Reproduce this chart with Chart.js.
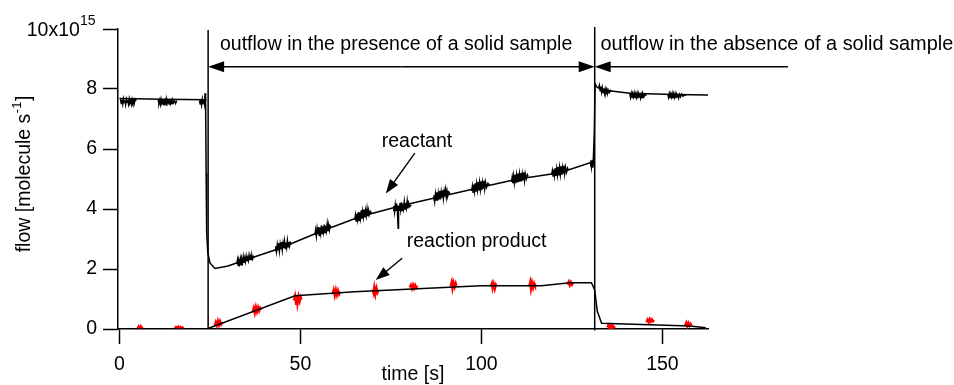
<!DOCTYPE html>
<html>
<head>
<meta charset="utf-8">
<script src="https://cdn.jsdelivr.net/npm/chart.js@4/dist/chart.umd.min.js"></script>
<style>
html,body{margin:0;padding:0;background:#fff;}
#wrap{width:954px;height:385px;position:relative;}
</style>
</head>
<body>
<div id="wrap"><canvas id="c" width="954" height="385"></canvas></div>
<script>
// ---------- data ----------
const xTicks = [0, 50, 100, 150];
const yTicks = [0, 2, 4, 6, 8, 10];

const reactantFitX = [0, 12, 23.8, 23.95, 24.1, 24.4, 25.0, 26.4, 30, 33.3, 44.4, 55.4, 66.4, 77.5, 88.5, 99.6, 109.7, 121.7, 130.9, 131.2, 131.4, 132, 133.6, 141, 153, 162.6];
const reactantFitY = [7.68, 7.66, 7.64, 5.2, 3.2, 2.55, 2.2, 2.02, 2.1, 2.24, 2.69, 3.24, 3.74, 4.1, 4.41, 4.72, 4.99, 5.21, 5.58, 6.6, 8.18, 8.05, 7.97, 7.86, 7.82, 7.8];

const productFitX = [0, 24.1, 48.5, 65, 99.8, 116.6, 124.4, 130.4, 131.3, 132, 133.2, 157.6, 162];
const productFitY = [0, 0, 1.11, 1.24, 1.44, 1.44, 1.54, 1.54, 1.3, 0.6, 0.19, 0.1, 0.04];

const reactantRaw = [
  [[0.3,7.66],[0.5,7.52],[0.7,7.64],[0.9,7.5],[1.1,7.67],[1.3,7.55],[1.5,7.62],[1.7,7.48],[1.9,7.66],[2.1,7.56],[2.3,7.63],[2.5,7.5],[2.7,7.67],[2.9,7.54],[3.1,7.6],[3.3,7.49],[3.5,7.65],[3.7,7.55],[3.9,7.62],[4.1,7.52],[4.3,7.66],[4.6,7.6]],
  [[10.7,7.64],[10.9,7.52],[11.1,7.62],[11.3,7.49],[11.5,7.66],[11.7,7.54],[11.9,7.6],[12.1,7.48],[12.3,7.65],[12.5,7.53],[12.7,7.62],[12.9,7.47],[13.1,7.64],[13.3,7.55],[13.5,7.6],[13.7,7.5],[13.9,7.66],[14.1,7.52],[14.3,7.61],[14.5,7.49],[14.7,7.63],[14.9,7.54],[15.2,7.6],[15.5,7.52],[15.8,7.62]],
  [[22.1,7.62],[22.3,7.5],[22.5,7.64],[22.7,7.48],[22.9,7.66],[23.1,7.52],[23.3,7.63],[23.5,7.5],[23.65,7.86],[23.8,7.6]],
  [[32.4,2.16],[32.6,2.3],[32.8,2.12],[33.0,2.28],[33.2,2.18],[33.4,2.34],[33.6,2.14],[33.8,2.32],[34.0,2.22],[34.2,2.4],[34.4,2.2],[34.6,2.36],[34.8,2.24],[35.0,2.42],[35.2,2.26],[35.4,2.38],[35.6,2.28],[35.8,2.46],[36.0,2.3],[36.2,2.42],[36.4,2.32],[36.6,2.44],[36.8,2.34],[37.0,2.42],[37.3,2.38]],
  [[43.0,2.6],[43.2,2.76],[43.4,2.58],[43.6,2.8],[43.8,2.62],[44.0,2.86],[44.2,2.6],[44.4,2.82],[44.6,2.66],[44.8,2.9],[45.0,2.64],[45.2,2.86],[45.4,2.7],[45.6,2.92],[45.8,2.68],[46.0,2.88],[46.2,2.72],[46.4,2.95],[46.6,2.74],[46.8,2.9],[47.0,2.76],[47.2,2.88],[47.5,2.82]],
  [[54.0,3.14],[54.2,3.3],[54.4,3.1],[54.6,3.34],[54.8,3.16],[55.0,3.4],[55.2,3.12],[55.4,3.38],[55.6,3.2],[55.8,3.46],[56.0,3.18],[56.2,3.42],[56.4,3.24],[56.6,3.48],[56.8,3.22],[57.0,3.44],[57.2,3.28],[57.4,3.5],[57.6,3.26],[57.8,3.46],[58.0,3.3],[58.2,3.44],[58.5,3.38]],
  [[65.0,3.64],[65.2,3.8],[65.4,3.6],[65.6,3.84],[65.8,3.66],[66.0,3.9],[66.2,3.62],[66.4,3.88],[66.6,3.7],[66.8,3.96],[67.0,3.68],[67.2,3.92],[67.4,3.74],[67.6,3.98],[67.8,3.72],[68.0,3.94],[68.2,3.78],[68.4,4.0],[68.6,3.76],[68.8,3.95],[69.0,3.8],[69.3,3.92],[69.6,3.86]],
  [[75.6,3.96],[75.8,4.1],[76.0,3.9],[76.2,4.14],[76.4,3.94],[76.6,4.18],[76.8,3.92],[77.0,3.36],[77.1,4.1],[77.3,3.96],[77.5,4.2],[77.7,3.98],[77.9,4.22],[78.1,3.95],[78.3,4.18],[78.5,4.02],[78.7,4.24],[78.9,4.0],[79.1,4.2],[79.3,4.04],[79.5,4.26],[79.7,4.02],[79.9,4.2],[80.2,4.08],[80.6,4.14]],
  [[86.7,4.3],[86.9,4.46],[87.1,4.26],[87.3,4.5],[87.5,4.3],[87.7,4.56],[87.9,4.28],[88.1,4.52],[88.3,4.34],[88.5,4.6],[88.7,4.32],[88.9,4.56],[89.1,4.38],[89.3,4.62],[89.5,4.36],[89.7,4.58],[89.9,4.42],[90.1,4.64],[90.3,4.4],[90.5,4.6],[90.7,4.44],[91.0,4.56],[91.3,4.5]],
  [[97.3,4.6],[97.5,4.76],[97.7,4.56],[97.9,4.82],[98.1,4.6],[98.3,4.86],[98.5,4.58],[98.7,4.84],[98.9,4.64],[99.1,4.9],[99.3,4.62],[99.5,4.88],[99.7,4.66],[99.9,4.92],[100.1,4.64],[100.3,4.88],[100.5,4.7],[100.7,4.94],[100.9,4.68],[101.1,4.9],[101.4,4.72],[101.8,4.86],[102.2,4.8]],
  [[108.3,4.9],[108.5,5.06],[108.7,4.86],[108.9,5.1],[109.1,4.88],[109.3,5.14],[109.5,4.86],[109.7,5.12],[109.9,4.92],[110.1,5.18],[110.3,4.9],[110.5,5.16],[110.7,4.94],[110.9,5.2],[111.1,4.92],[111.3,5.16],[111.5,4.98],[111.7,5.22],[111.9,4.96],[112.1,5.18],[112.4,5.0],[112.7,5.14],[112.9,5.08]],
  [[119.4,5.14],[119.6,5.28],[119.8,5.1],[120.0,5.32],[120.2,5.12],[120.4,5.36],[120.6,5.1],[120.8,5.34],[121.0,5.14],[121.2,5.4],[121.4,5.12],[121.6,5.38],[121.8,5.16],[122.0,5.42],[122.2,5.14],[122.4,5.38],[122.6,5.2],[122.8,5.44],[123.0,5.18],[123.2,5.4],[123.5,5.22],[123.8,5.36],[124.0,5.3]],
  [[130.0,5.44],[130.2,5.62],[130.4,5.4],[130.6,5.64],[130.8,5.38],[131.0,5.6],[131.1,5.46]],
  [[132.4,8.04],[132.6,8.12],[132.8,7.94],[133.0,8.08],[133.2,7.9],[133.4,8.04],[133.6,7.88],[133.8,8.02],[134.0,7.86],[134.2,8.0],[134.4,7.88],[134.6,7.98],[134.8,7.85],[135.0,7.97],[135.3,7.88],[135.6,7.95],[135.9,7.9]],
  [[141.0,7.84],[141.2,7.72],[141.4,7.85],[141.6,7.7],[141.8,7.84],[142.0,7.74],[142.2,7.86],[142.4,7.7],[142.6,7.83],[142.8,7.72],[143.0,7.85],[143.2,7.69],[143.4,7.84],[143.6,7.73],[143.8,7.83],[144.0,7.7],[144.2,7.82],[144.4,7.72],[144.6,7.84],[144.9,7.74],[145.2,7.82],[145.6,7.78]],
  [[151.5,7.82],[151.7,7.72],[151.9,7.84],[152.1,7.7],[152.3,7.83],[152.5,7.73],[152.7,7.85],[152.9,7.69],[153.1,7.83],[153.3,7.72],[153.5,7.84],[153.7,7.7],[153.9,7.82],[154.1,7.73],[154.3,7.84],[154.5,7.71],[154.7,7.82],[155.0,7.74],[155.3,7.83],[155.7,7.76],[156.1,7.81],[156.6,7.79]]
];

const productRaw = [
  [[5.0,0.02],[5.3,0.08],[5.6,0.01],[5.9,0.09],[6.2,0.03],[6.5,0.06]],
  [[15.3,0.02],[15.6,0.06],[15.9,0.01],[16.2,0.07],[16.5,0.0],[16.8,0.06],[17.1,0.01],[17.4,0.05],[17.7,0.02]],
  [[26.3,0.1],[26.6,0.22],[26.9,0.12],[27.2,0.27],[27.5,0.14],[27.8,0.26],[28.1,0.16],[28.4,0.23]],
  [[36.8,0.56],[37.1,0.7],[37.4,0.54],[37.7,0.73],[38.0,0.58],[38.3,0.72],[38.6,0.6],[38.9,0.7],[39.2,0.64]],
  [[48.2,0.95],[48.5,1.1],[48.8,0.84],[49.0,1.13],[49.2,0.86],[49.5,1.08],[49.8,0.92],[50.1,1.05],[50.3,0.98]],
  [[58.9,1.16],[59.2,1.3],[59.5,1.12],[59.8,1.3],[60.1,1.14],[60.4,1.28],[60.7,1.16],[61.0,1.24]],
  [[69.9,1.32],[70.2,1.2],[70.4,1.38],[70.7,1.16],[71.0,1.36],[71.3,1.22],[71.6,1.3]],
  [[80.2,1.38],[80.5,1.46],[80.8,1.35],[81.1,1.47],[81.4,1.36],[81.7,1.46],[82.0,1.38],[82.3,1.44]],
  [[91.5,1.42],[91.8,1.56],[92.0,1.36],[92.3,1.54],[92.6,1.4],[92.9,1.52],[93.1,1.44]],
  [[102.6,1.42],[102.9,1.52],[103.1,1.36],[103.4,1.5],[103.7,1.34],[104.0,1.48],[104.2,1.44]],
  [[113.2,1.42],[113.5,1.56],[113.7,1.34],[114.0,1.54],[114.3,1.38],[114.6,1.52],[114.8,1.46]],
  [[123.8,1.48],[124.1,1.57],[124.4,1.46],[124.7,1.56],[125.0,1.48],[125.3,1.54]],
  [[134.8,0.05],[135.1,0.13],[135.4,0.03],[135.7,0.12],[136.0,0.04],[136.3,0.11],[136.6,0.05],[136.9,0.09]],
  [[145.6,0.22],[145.9,0.31],[146.2,0.23],[146.5,0.33],[146.8,0.25],[147.1,0.32],[147.4,0.26],[147.7,0.3]],
  [[156.3,0.12],[156.6,0.21],[156.9,0.1],[157.2,0.2],[157.5,0.11],[157.8,0.17],[158.0,0.12]]
];

// annotation positions in data units
const phaseBounds = [24.5, 131.3];
const arrowLevel = 8.74;
const arrowEnd = 184.7;

// ---------- helpers ----------
function pairs(xs, ys){ return xs.map((x,i)=>({x:x, y:ys[i]})); }
function clusters(cl){
  const out = [];
  cl.forEach(c=>{
    c.forEach(p=>out.push({x:p[0], y:p[1]}));
    out.push({x:c[c.length-1][0]+0.01, y:null});
  });
  return out;
}

const FONT = "'Liberation Sans', Arial, Helvetica, sans-serif";
const FS = 19.5;
Chart.defaults.font.family = FONT;
Chart.defaults.font.size = FS;
Chart.defaults.color = '#000';

function arrow(ctx, x1, y1, x2, y2, len, half){
  const a = Math.atan2(y2-y1, x2-x1);
  ctx.beginPath(); ctx.moveTo(x1,y1);
  ctx.lineTo(x2 - Math.cos(a)*len*0.8, y2 - Math.sin(a)*len*0.8); ctx.stroke();
  ctx.beginPath();
  ctx.moveTo(x2,y2);
  ctx.lineTo(x2 - Math.cos(a)*len + Math.sin(a)*half, y2 - Math.sin(a)*len - Math.cos(a)*half);
  ctx.lineTo(x2 - Math.cos(a)*len - Math.sin(a)*half, y2 - Math.sin(a)*len + Math.cos(a)*half);
  ctx.closePath(); ctx.fill();
}

const annot = {
  id: 'annot',
  afterDraw(chart){
    const {ctx} = chart;
    const xs = chart.scales.x, ys = chart.scales.y;
    const px = v => xs.getPixelForValue(v);
    const py = v => ys.getPixelForValue(v);
    ctx.save();
    ctx.strokeStyle = '#000'; ctx.fillStyle = '#000'; ctx.lineWidth = 1.5;
    // vertical phase lines
    ctx.beginPath();
    ctx.moveTo(px(phaseBounds[0]), py(9.97)); ctx.lineTo(px(phaseBounds[0]), py(0));
    ctx.moveTo(px(phaseBounds[1]), py(10.07)); ctx.lineTo(px(phaseBounds[1]), py(-0.05));
    ctx.stroke();
    // horizontal arrows
    const ay = py(arrowLevel);
    const mid = (px(phaseBounds[0]) + px(phaseBounds[1]))/2;
    arrow(ctx, mid, ay, px(phaseBounds[0]), ay, 16, 5.5);
    arrow(ctx, mid, ay, px(phaseBounds[1]), ay, 16, 5.5);
    arrow(ctx, px(arrowEnd), ay, px(phaseBounds[1]), ay, 16, 5.5);
    // pointer arrows
    ctx.lineWidth = 1.4;
    arrow(ctx, px(81.6), py(5.86), px(73.6), py(4.52), 14, 5);
    arrow(ctx, px(78.1), py(2.36), px(70.8), py(1.63), 14, 5);
    // texts
    ctx.font = FS + 'px ' + FONT;
    ctx.textBaseline = 'alphabetic';
    ctx.textAlign = 'left';
    ctx.fillText('outflow in the presence of a solid sample', 220, 49.5);
    ctx.fillText('reactant', 381.7, 146.7);
    ctx.fillText('reaction product', 406.7, 246.7);
    ctx.font = '19.9px ' + FONT;
    ctx.fillText('outflow in the absence of a solid sample', 600.5, 49.5);
    ctx.font = FS + 'px ' + FONT;
    // x title
    ctx.textAlign = 'center';
    ctx.fillText('time [s]', (xs.left + xs.right)/2, 379.5);
    // y axis top label 10x10^15
    ctx.textAlign = 'left';
    ctx.fillText('10x10', 26.7, py(10) + 6.5);
    ctx.font = '14px ' + FONT;
    ctx.fillText('15', 80, py(10) - 4.5);
    // y title with superscript
    ctx.save();
    ctx.translate(29.5, 174);
    ctx.rotate(-Math.PI/2);
    ctx.font = FS + 'px ' + FONT;
    const t1 = 'flow [molecule s';
    const w1 = ctx.measureText(t1).width;
    ctx.font = '13px ' + FONT;
    const t2 = '-1';
    const w2 = ctx.measureText(t2).width;
    ctx.font = FS + 'px ' + FONT;
    const t3 = ']';
    const w3 = ctx.measureText(t3).width;
    let sx = -(w1 + w2 + w3 + 1)/2;
    ctx.textAlign = 'left';
    ctx.fillText(t1, sx, 0);
    ctx.font = '13px ' + FONT;
    ctx.fillText(t2, sx + w1 + 0.5, -9);
    ctx.font = FS + 'px ' + FONT;
    ctx.fillText(t3, sx + w1 + w2 + 1, 0);
    ctx.restore();
    ctx.restore();
  }
};

new Chart(document.getElementById('c'), {
  type: 'line',
  data: {
    datasets: [
      { label: 'reactant fit', data: pairs(reactantFitX, reactantFitY), borderColor: '#000', borderWidth: 1.5, pointRadius: 0, tension: 0, order: 1 },
      { label: 'product fit', data: pairs(productFitX, productFitY), borderColor: '#000', borderWidth: 1.5, pointRadius: 0, tension: 0, order: 2 },
      { label: 'reactant raw', data: clusters(reactantRaw), borderColor: '#000', borderWidth: 1.5, pointRadius: 0, tension: 0, spanGaps: false, order: 3 },
      { label: 'product raw', data: clusters(productRaw), borderColor: '#ff0000', borderWidth: 2.4, pointRadius: 0, tension: 0, spanGaps: false, order: 4 }
    ]
  },
  options: {
    responsive: false,
    animation: false,
    events: [],
    layout: { padding: { top: 29, right: 246, left: 0, bottom: 0 } },
    plugins: { legend: { display: false }, tooltip: { enabled: false } },
    scales: {
      x: {
        type: 'linear', min: -0.4, max: 162.6,
        afterBuildTicks: s => { s.ticks = xTicks.map(v => ({value: v})); },
        afterFit: s => { s.height = 56; },
        grid: { drawOnChartArea: false, drawTicks: true, tickLength: 15, tickWidth: 1.5, tickColor: '#000' },
        border: { display: true, color: '#000', width: 1.5 },
        ticks: { padding: 9, maxRotation: 0, autoSkip: false, color: '#000', font: { size: FS } }
      },
      y: {
        type: 'linear', min: 0, max: 10,
        afterBuildTicks: s => { s.ticks = yTicks.map(v => ({value: v})); },
        afterFit: s => { s.width = 118; },
        grid: { drawOnChartArea: false, drawTicks: true, tickLength: 15, tickWidth: 1.5, tickColor: '#000' },
        border: { display: true, color: '#000', width: 1.5 },
        ticks: { padding: 6, autoSkip: false, color: '#000', font: { size: FS }, callback: v => (v === 10 ? '' : String(v)) }
      }
    }
  },
  plugins: [annot]
});
</script>
</body>
</html>
